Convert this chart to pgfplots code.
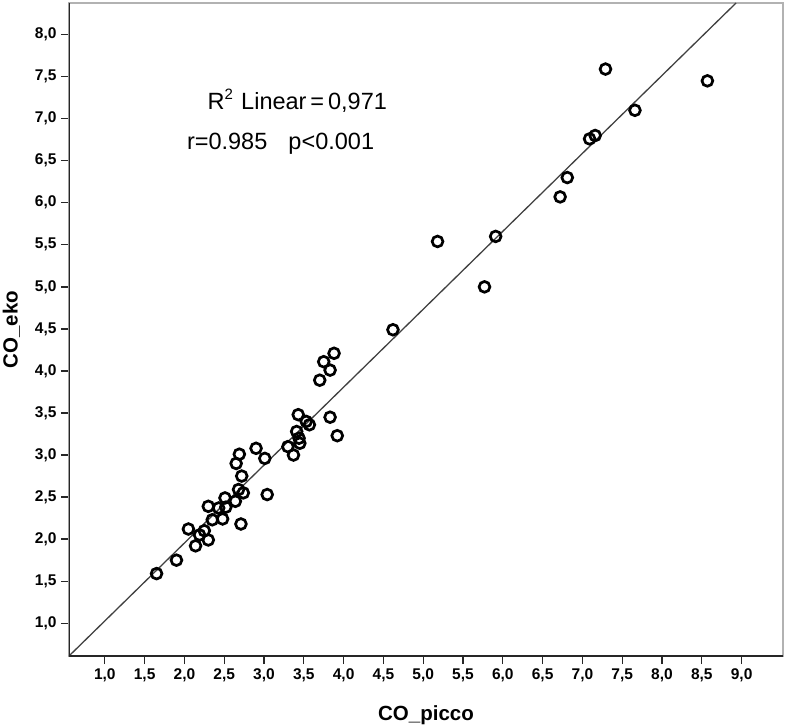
\documentclass[border=0pt]{standalone}
\usepackage{fontspec}
\setmainfont{Liberation Sans}
\usepackage{pgfplots}
\pgfplotsset{compat=1.18}
\usetikzlibrary{calc}
\begin{document}
\begin{tikzpicture}
\begin{axis}[
  scale only axis,
  width=714pt, height=653pt,
  xmin=0.55, xmax=9.52, ymin=0.61, ymax=8.376,
  xtick={1,1.5,...,9}, ytick={1,1.5,...,8},
  xtick pos=left, ytick pos=left,
  tick align=outside, major tick length=8pt,
  tick style={black!85, line width=1.3pt},
  axis line style={gray!60, line width=1.3pt},
  /pgf/number format/assume math mode=true,
  /pgf/number format/use comma,
  /pgf/number format/fixed,
  /pgf/number format/fixed zerofill,
  /pgf/number format/precision=1,
  ticklabel style={font=\fontsize{15.5}{15.5}\selectfont\bfseries},
  xticklabel style={yshift=-1pt},
  yticklabel style={xshift=-1pt},
  xlabel={CO\_picco}, ylabel={CO\_eko},
  label style={font=\fontsize{20.5}{22}\selectfont\bfseries},
  xlabel style={yshift=-17pt},
  ylabel style={yshift=8pt},
  clip=true,
]
\coordinate (bl) at (rel axis cs:0,0);
\coordinate (tr) at (rel axis cs:1,1);
\addplot[color=black!75, line width=1.3pt, no marks] coordinates {(0.55,0.61) (8.93,8.376)};
\addplot[only marks, mark=o, mark size=5.4pt, mark options={line width=2.7pt, draw=black}] coordinates {
(1.65,1.59) (1.90,1.75) (2.05,2.12) (2.14,1.92) (2.30,1.99) (2.25,2.10) (2.19,2.05)
(2.30,2.39) (2.35,2.23) (2.43,2.37) (2.48,2.24) (2.51,2.49) (2.52,2.38) (2.64,2.45)
(2.68,2.59) (2.74,2.55) (2.71,2.18) (2.72,2.75) (2.65,2.90) (2.69,3.01) (2.90,3.08)
(3.01,2.96) (3.04,2.53) (3.43,3.48) (3.53,3.40) (3.57,3.36) (3.83,3.45) (3.92,3.23)
(3.41,3.28) (3.44,3.20) (3.45,3.14) (3.30,3.10) (3.37,3.00)
(3.70,3.89) (3.83,4.01) (3.75,4.11) (3.88,4.21) (4.62,4.49)
(5.18,5.54) (5.91,5.60) (5.77,5.00) (6.72,6.07) (6.81,6.30) (7.09,6.76) (7.16,6.80)
(7.29,7.59) (7.66,7.10) (8.57,7.45)
};
\draw[black!85, line width=2pt] (rel axis cs:0,1) -- (rel axis cs:0,0) -- (rel axis cs:1,0);
\node[anchor=base west, inner sep=0pt, font=\fontsize{23.5}{26}\selectfont] at (axis cs:2.29,7.115)
  {R\raisebox{0.42em}{\fontsize{15}{15}\selectfont 2}\hspace{0.35em}Linear\,=\,0,971};
\node[anchor=base west, inner sep=0pt, font=\fontsize{23.5}{26}\selectfont] at (axis cs:2.03,6.63)
  {r=0.985\hspace{0.9em}p<0.001};
\end{axis}
\pgfresetboundingbox
\path ($(bl)+(-69pt,-70pt)$) rectangle ($(tr)+(4pt,3pt)$);
\end{tikzpicture}
\end{document}
